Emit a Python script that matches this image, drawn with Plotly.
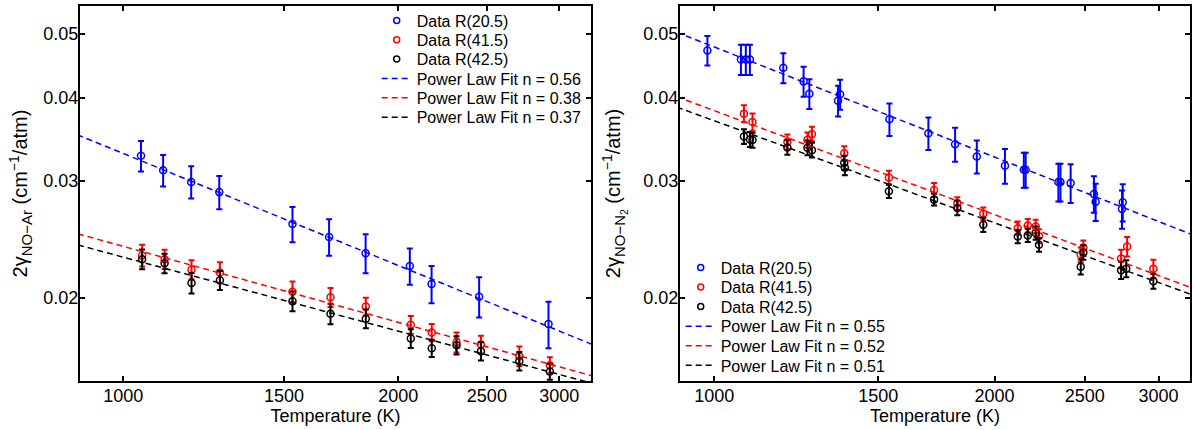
import plotly.graph_objects as go
import numpy as np

# ---------------- Left panel: NO-Ar ----------------
ar_T_blue = [1046, 1106, 1187, 1274, 1532, 1680, 1842, 2059, 2175, 2452, 2920]
ar_y_blue = [0.03273, 0.03112, 0.0299, 0.02886, 0.02584, 0.02471, 0.02336, 0.02234, 0.02099, 0.02009, 0.01827]
ar_e_blue = [0.00173, 0.0017, 0.00168, 0.00166, 0.00158, 0.00155, 0.00157, 0.0014, 0.00136, 0.0014, 0.00147]

ar_T_rk = [1049, 1110, 1188, 1276, 1532, 1686, 1843, 2064, 2176, 2316, 2463, 2713, 2930]
ar_y_red = [0.02317, 0.02288, 0.02207, 0.02184, 0.02044, 0.02005, 0.01942, 0.01823, 0.01774, 0.01715, 0.01702, 0.01635, 0.01584]
ar_e_red = [0.00087, 0.00076, 0.00073, 0.0008, 0.00073, 0.00066, 0.0006, 0.00056, 0.00053, 0.0006, 0.00052, 0.00055, 0.00045]
ar_y_blk = [0.02288, 0.02255, 0.02106, 0.02126, 0.01978, 0.01893, 0.01861, 0.01738, 0.0168, 0.01698, 0.01663, 0.01607, 0.0155]
ar_e_blk = [0.00078, 0.00076, 0.00074, 0.0007, 0.00068, 0.00067, 0.0006, 0.00056, 0.0005, 0.00054, 0.00053, 0.00052, 0.00043]

# power-law fits: gamma(T) = g1000 * (T/1000)^-n
ar_fit_n = [0.56, 0.38, 0.37]
ar_fit_g1000 = [0.0330, 0.02392, 0.02304]

# ---------------- Right panel: NO-N2 ----------------
n2_T_blue = [983, 1068, 1081, 1092, 1186, 1247, 1265, 1358, 1365, 1542, 1698, 1814, 1914, 2052,
             2150, 2160, 2342, 2354, 2414, 2557, 2568, 2746, 2741]
n2_y_blue = [0.04715, 0.04571, 0.04571, 0.04571, 0.0444, 0.04236, 0.04059, 0.03962, 0.0405, 0.03715,
             0.03539, 0.03407, 0.03265, 0.03162, 0.03119, 0.03119, 0.02989, 0.02989, 0.02979, 0.02868,
             0.02792, 0.02786, 0.02723]
n2_e_blue = [0.0024, 0.0024, 0.0024, 0.0024, 0.0023, 0.0022, 0.0021, 0.0021, 0.0021, 0.0021, 0.002,
             0.002, 0.00187, 0.0019, 0.0019, 0.0019, 0.00195, 0.00195, 0.002, 0.0018, 0.0018, 0.0018, 0.0018]

n2_T_red = [1076, 1099, 1198, 1259, 1273, 1379, 1540, 1722, 1824, 1945, 2118, 2171, 2214, 2232,
            2475, 2491, 2735, 2776, 2962]
n2_y_red = [0.03788, 0.03681, 0.03435, 0.03459, 0.03531, 0.03302, 0.03037, 0.02908, 0.02776, 0.02677,
            0.02547, 0.0257, 0.02562, 0.02477, 0.02323, 0.0238, 0.02293, 0.0239, 0.02214]
n2_e_red = [0.0011, 0.0011, 0.0009, 0.0009, 0.0009, 0.0008, 0.0007, 0.0007, 0.0006, 0.0006, 0.0006,
            0.0006, 0.0006, 0.0006, 0.0006, 0.0006, 0.0007, 0.0008, 0.0007]

n2_T_blk = [1076, 1092, 1099, 1198, 1259, 1273, 1379, 1381, 1540, 1722, 1824, 1945, 2118, 2171, 2214,
            2232, 2475, 2491, 2735, 2770, 2962]
n2_y_blk = [0.03499, 0.03463, 0.03456, 0.03369, 0.03365, 0.03338, 0.03195, 0.0314, 0.02894, 0.02812,
            0.02732, 0.02577, 0.02475, 0.02484, 0.02504, 0.02405, 0.02228, 0.02342, 0.02201, 0.02214, 0.0212]
n2_e_blk = [0.0009, 0.0009, 0.0009, 0.00085, 0.00085, 0.00085, 0.0008, 0.0008, 0.00067, 0.00057, 0.00068,
            0.00064, 0.00057, 0.00057, 0.00057, 0.00057, 0.00058, 0.00058, 0.00066, 0.00066, 0.00055]

n2_fit_n = [0.55, 0.52, 0.51]
n2_fit_g1000 = [0.04771, 0.03827, 0.03695]

data_names = ["Data R(20.5)", "Data R(41.5)", "Data R(42.5)"]
colors = ["#0000ff", "#ff0000", "#000000"]
fit_T_span = [850, 3400]
x_ticks = [1000, 1500, 2000, 2500, 3000]
y_ticks = [0.02, 0.03, 0.04, 0.05]

FONT = "Liberation Sans, Arial, Helvetica, sans-serif"
W, H = 1195, 430
ML, MR, MT, MB = 80, 5, 4, 49
PW, PH = W - ML - MR, H - MT - MB

fig = go.Figure()
legend_layouts = {}
legend_counter = [0]


def new_legend(text_left_px, row_center_px):
    legend_counter[0] += 1
    k = legend_counter[0]
    key = "legend" if k == 1 else f"legend{k}"
    lx = (text_left_px - 40 - ML) / PW
    ly = 1 - (row_center_px - 18.5 - MT) / PH
    legend_layouts[key] = dict(x=lx, y=ly, xanchor="left", yanchor="top",
                               bgcolor="rgba(0,0,0,0)", borderwidth=0,
                               font=dict(family=FONT, size=16, color="black"))
    return key


def add_panel(xa, ya, sets, fit_n, fit_g, text_left, row0, row_step):
    for (T, y, e), c in zip(sets, colors):
        fig.add_trace(go.Scatter(
            x=T, y=y, mode="markers", xaxis=xa, yaxis=ya, showlegend=False,
            marker=dict(symbol="circle-open", size=7, color=c, line=dict(width=1.5, color=c)),
            error_y=dict(type="data", array=e, visible=True, color=c, thickness=2, width=3),
        ))
    row = 0
    for name, c in zip(data_names, colors):
        lg = new_legend(text_left, row0 + row * row_step)
        row += 1
        fig.add_trace(go.Scatter(
            x=[None], y=[None], mode="markers", name=name, xaxis=xa, yaxis=ya, legend=lg,
            marker=dict(symbol="circle-open", size=6, color=c, line=dict(width=1.5, color=c)),
        ))
    Tf = np.array(fit_T_span, dtype=float)
    for n, g, c in zip(fit_n, fit_g, colors):
        lg = new_legend(text_left, row0 + row * row_step)
        row += 1
        fig.add_trace(go.Scatter(
            x=Tf, y=g * (Tf / 1000.0) ** (-n), mode="lines", xaxis=xa, yaxis=ya, legend=lg,
            name=f"Power Law Fit n = {n:.2f}",
            line=dict(color=c, width=1.5, dash="6px,4px"),
        ))


add_panel("x", "y",
          [(ar_T_blue, ar_y_blue, ar_e_blue), (ar_T_rk, ar_y_red, ar_e_red), (ar_T_rk, ar_y_blk, ar_e_blk)],
          ar_fit_n, ar_fit_g1000, 416.7, 20.0, 19.45)
add_panel("x2", "y2",
          [(n2_T_blue, n2_y_blue, n2_e_blue), (n2_T_red, n2_y_red, n2_e_red), (n2_T_blk, n2_y_blk, n2_e_blk)],
          n2_fit_n, n2_fit_g1000, 720.7, 268.3, 19.7)

axis_common = dict(
    type="log", showline=True, linecolor="black", linewidth=2, mirror="ticks",
    ticks="inside", ticklen=5, tickwidth=1.5, tickcolor="black", showgrid=False, zeroline=False,
    tickfont=dict(family=FONT, size=18, color="black"),
)
xcommon = dict(**axis_common, tickvals=x_ticks, ticktext=[str(v) for v in x_ticks], ticklabelstandoff=-3)
ycommon = dict(**axis_common, tickvals=y_ticks, ticktext=[f"{v:.2f}" for v in y_ticks], ticklabelstandoff=-4,
               range=[np.log10(0.015), np.log10(0.055)])

SUB = "<span style='font-size:15px'>{}</span>"
SUP = "<span style='font-size:14px'>−1</span>"
ytitle_ar = f"2γ<sub>{SUB.format('NO−Ar')}</sub> (cm<sup>{SUP}</sup>/atm)"
ytitle_n2 = f"2γ<sub>{SUB.format('NO−N<sub>2</sub>')}</sub> (cm<sup>{SUP}</sup>/atm)"

fig.update_layout(
    width=W, height=H,
    margin=dict(l=ML, r=MR, t=MT, b=MB),
    paper_bgcolor="white", plot_bgcolor="white",
    font=dict(family=FONT, size=18, color="black"),
    xaxis=dict(**xcommon, domain=[0, 511 / PW], range=[np.log10(897), np.log10(3250)],
               title=dict(text="Temperature (K)", standoff=0, font=dict(size=18))),
    yaxis=dict(**ycommon, anchor="x",
               title=dict(text=ytitle_ar, standoff=10, font=dict(size=20))),
    xaxis2=dict(**xcommon, domain=[600 / PW, 1.0], anchor="y2",
                range=[np.log10(918.6), np.log10(3243)],
                title=dict(text="Temperature (K)", standoff=0, font=dict(size=18))),
    yaxis2=dict(**ycommon, anchor="x2",
                title=dict(text=ytitle_n2, standoff=17, font=dict(size=20))),
    **legend_layouts,
)

fig.write_html("out.html", config={"displayModeBar": False},
               post_script="document.body.style.margin='0px';")
